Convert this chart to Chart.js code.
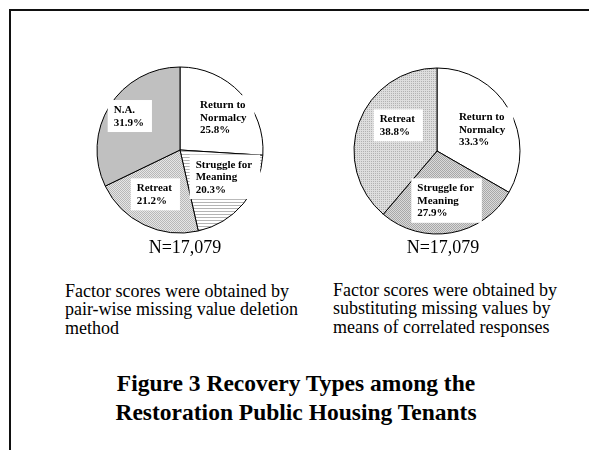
<!DOCTYPE html>
<html>
<head>
<meta charset="utf-8">
<script src="https://cdn.jsdelivr.net/npm/chart.js@4"></script>
<style>
  html, body { margin: 0; padding: 0; background: #fff; }
  body { width: 589px; height: 450px; position: relative; overflow: hidden;
         font-family: "Liberation Serif", "Times New Roman", serif; color: #000; }
  .frame { position: absolute; left: 9px; top: 9px; width: 600px; height: 460px;
           border-top: 2px solid #111; border-left: 2px solid #111; }
  canvas { position: absolute; }
  .n { position: absolute; width: 160px; text-align: center; font-size: 18px; line-height: 20px; }
  .note { position: absolute; font-size: 18px; line-height: 18.3px; white-space: nowrap; }
  .title { position: absolute; left: 0; width: 592px; top: 369px; text-align: center;
           font-weight: bold; font-size: 23.5px; line-height: 28.5px; }
</style>
</head>
<body>
<div class="frame"></div>
<canvas id="pieLeft" width="240" height="220" style="left:60px;top:40px"></canvas>
<canvas id="pieRight" width="240" height="220" style="left:317px;top:41px"></canvas>

<div class="n" style="left:105px;top:237px">N=17,079</div>
<div class="n" style="left:363px;top:237px">N=17,079</div>

<div class="note" style="left:65px;top:282px">Factor scores were obtained by<br>pair-wise missing value deletion<br>method</div>
<div class="note" style="left:333px;top:281px">Factor scores were obtained by<br>substituting missing values by<br>means of correlated responses</div>

<div class="title">Figure 3 Recovery Types among the<br>Restoration Public Housing Tenants</div>

<script>
// pie 1: pair-wise deletion
const leftLabels = ["Return to\nNormalcy", "Struggle for\nMeaning", "Retreat", "N.A."];
const leftValues = [25.8, 20.3, 21.2, 31.9];

// pie 2: substituted missing values
const rightLabels = ["Return to\nNormalcy", "Struggle for\nMeaning", "Retreat"];
const rightValues = [33.3, 27.9, 38.8];

// small nudges so the label boxes sit where the original put them
const leftNudge = [[7, 2], [6, -5], [-4, 0], [-9, -7]];
const rightNudge = [[2, 4], [0, 1], [7, -8]];

// small fill textures like the old office hatches
function makePattern(size, drawFn) {
    const c = document.createElement("canvas");
    c.width = size; c.height = size;
    const g = c.getContext("2d");
    drawFn(g);
    return g.createPattern(c, "repeat");
}

const hLines = makePattern(3, g => {
    g.fillStyle = "#ffffff"; g.fillRect(0, 0, 3, 3);
    g.fillStyle = "#b4b4b4"; g.fillRect(0, 0, 3, 1);
});
const lightDots = makePattern(2, g => {
    g.fillStyle = "#e6e6e6"; g.fillRect(0, 0, 2, 2);
    g.fillStyle = "#b8b8b8"; g.fillRect(0, 0, 1, 1); g.fillRect(1, 1, 1, 1);
});
const darkDots = makePattern(2, g => {
    g.fillStyle = "#dadada"; g.fillRect(0, 0, 2, 2);
    g.fillStyle = "#a8a8a8"; g.fillRect(0, 0, 1, 1); g.fillRect(1, 1, 1, 1);
});
const fineHatch = makePattern(2, g => {
    g.fillStyle = "#dedede"; g.fillRect(0, 0, 2, 2);
    g.fillStyle = "#b2b2b2"; g.fillRect(0, 0, 1, 1);
});

const leftFills = ["#ffffff", hLines, lightDots, "#c0c0c0"];
const rightFills = ["#ffffff", darkDots, fineHatch];

// percent labels in white boxes inside each slice
const sliceLabels = {
    id: "sliceLabels",
    afterDatasetsDraw(chart, args, opts) {
        const ctx = chart.ctx;
        const ds = chart.data.datasets[0];
        const meta = chart.getDatasetMeta(0);
        const nudge = opts.nudge || [];
        ctx.save();
        ctx.font = "bold 11px 'Liberation Serif', 'Times New Roman', serif";
        ctx.textBaseline = "middle";
        ctx.textAlign = "left";
        const lh = 12.5;
        meta.data.forEach((arc, i) => {
            const p = arc.getProps(["x", "y", "startAngle", "endAngle", "outerRadius"], true);
            const mid = (p.startAngle + p.endAngle) / 2;
            const nd = nudge[i] || [0, 0];
            const cx = p.x + Math.cos(mid) * p.outerRadius * 0.6 + nd[0];
            const cy = p.y + Math.sin(mid) * p.outerRadius * 0.6 + nd[1];
            const lines = chart.data.labels[i].split("\n");
            lines.push(ds.data[i].toFixed(1) + "%");
            const w = Math.max(...lines.map(t => ctx.measureText(t).width));
            const h = lines.length * lh;
            const x0 = cx - w / 2;
            const y0 = cy - h / 2;
            ctx.fillStyle = "#ffffff";
            ctx.fillRect(x0 - 6, y0 - 4, w + 14, h + 7);
            ctx.fillStyle = "#000";
            lines.forEach((t, k) => ctx.fillText(t, x0, y0 + lh * k + lh / 2));
        });
        ctx.restore();
    }
};

function drawPie(id, labels, values, fills, radius, nudge) {
    return new Chart(document.getElementById(id).getContext("2d"), {
        type: "pie",
        data: {
            labels: labels,
            datasets: [{
                data: values,
                backgroundColor: fills,
                borderColor: "#000",
                borderWidth: 1,
                radius: radius
            }]
        },
        options: {
            responsive: false,
            animation: false,
            events: [],
            layout: { padding: 0 },
            plugins: {
                legend: { display: false },
                tooltip: { enabled: false },
                sliceLabels: { nudge: nudge }
            }
        },
        plugins: [sliceLabels]
    });
}

drawPie("pieLeft", leftLabels, leftValues, leftFills, 83, leftNudge);
drawPie("pieRight", rightLabels, rightValues, rightFills, 83, rightNudge);
</script>
</body>
</html>
